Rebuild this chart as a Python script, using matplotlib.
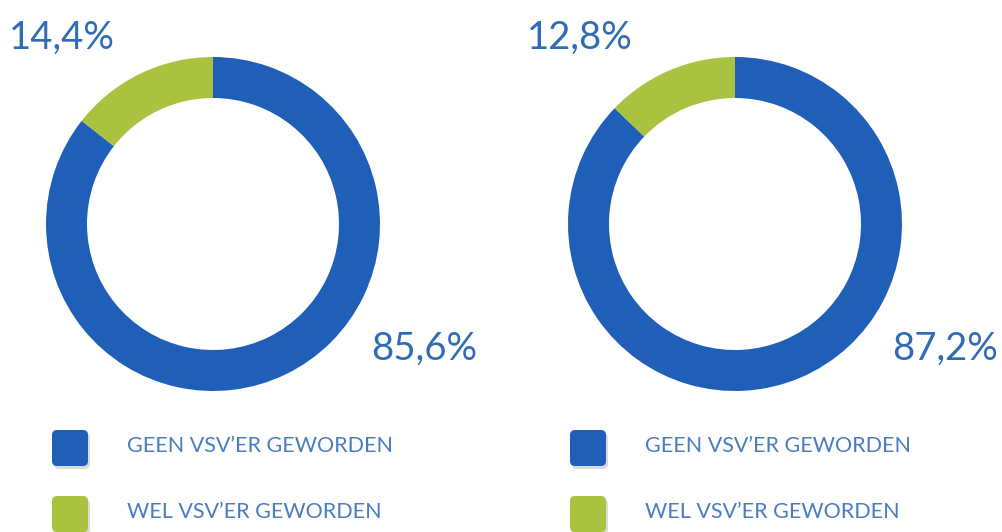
import matplotlib.pyplot as plt
from matplotlib.patches import FancyBboxPatch

# data
categories = ["GEEN VSV\u2019ER GEWORDEN", "WEL VSV\u2019ER GEWORDEN"]
left_values = [85.6, 14.4]
right_values = [87.2, 12.8]
left_labels = ["85,6%", "14,4%"]
right_labels = ["87,2%", "12,8%"]

blauw = "#1f5fb8"
groen = "#a9c23f"
tekst = "#2f6cb5"

plt.rcParams['font.family'] = ['Lato', 'DejaVu Sans']

fig = plt.figure(figsize=(10.03, 5.32), dpi=100)
ax = fig.add_axes([0, 0, 1, 1])
H = 532


def donut(cx, cy, waarden, labels, pos_groot, pos_klein):
    ax.pie(waarden, colors=[blauw, groen], startangle=90, counterclock=False,
           center=(cx, H - cy), radius=167,
           wedgeprops=dict(width=41, edgecolor="none"))
    # percentage labels
    ax.text(pos_groot[0], H - pos_groot[1], labels[0], fontsize=27.5,
            color=tekst, ha="left", va="center")
    ax.text(pos_klein[0], H - pos_klein[1], labels[1], fontsize=27.5,
            color=tekst, ha="left", va="center")


donut(213, 224, left_values, left_labels, (371, 349), (9, 38))
donut(735, 224, right_values, right_labels, (892, 349), (527, 38))

# legenda
for x0 in (52, 570):
    for i, (kleur, naam) in enumerate(zip([blauw, groen], categories)):
        yc = 448 + i * 66
        schaduw = FancyBboxPatch((x0 + 2, H - yc - 21), 36, 36,
                                 boxstyle="round,pad=0,rounding_size=5",
                                 fc="#999999", ec="none", alpha=0.35)
        ax.add_patch(schaduw)
        vak = FancyBboxPatch((x0, H - yc - 18), 36, 36,
                             boxstyle="round,pad=0,rounding_size=5",
                             fc=kleur, ec="none")
        ax.add_patch(vak)
        ax.text(x0 + 75, H - yc + 2, naam, fontsize=15.5, color="#4a7cc0",
                ha="left", va="center")

ax.set_xlim(0, 1003)
ax.set_ylim(0, H)
ax.set_aspect("equal")
ax.axis("off")
fig.savefig("out.png", dpi=100)
